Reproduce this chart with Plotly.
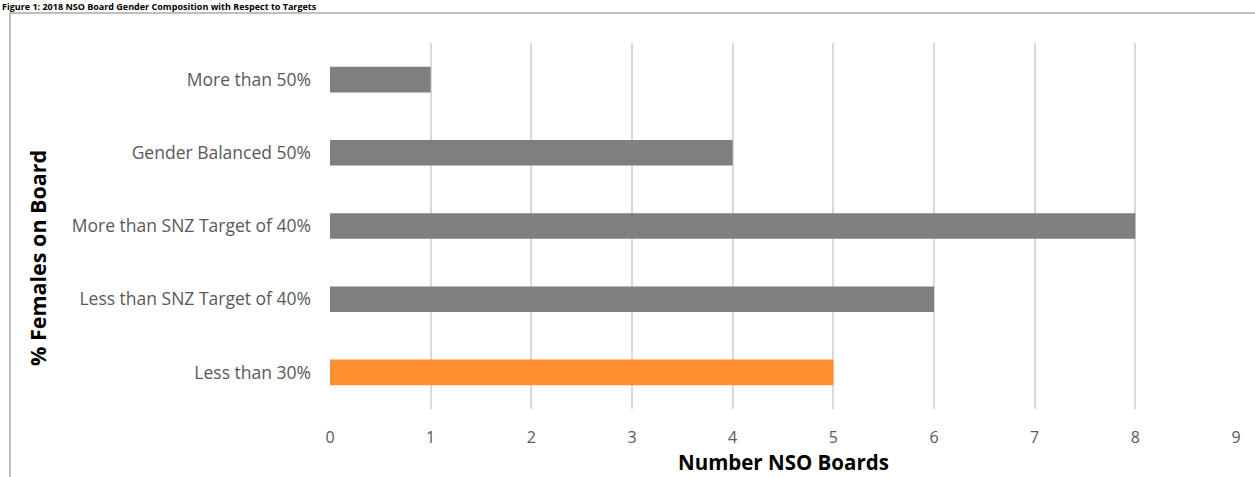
import plotly.graph_objects as go

categories = ["Less than 30%", "Less than SNZ Target of 40%", "More than SNZ Target of 40%",
              "Gender Balanced 50%", "More than 50%"]
counts = [5, 6, 8, 4, 1]
bar_colors = ["#FF8F2E", "#7F7F7F", "#7F7F7F", "#7F7F7F", "#7F7F7F"]
x_ticks = list(range(0, 10))

L, R, T, B = 330, 19, 43, 68
W, H = 1255, 477
pw, ph = W - L - R, H - T - B

def px_x(p):
    return (p - L) / pw

def px_y(p):
    return (H - B - p) / ph

FONT = "Open Sans"

fig = go.Figure(go.Bar(
    y=categories, x=counts, orientation="h",
    marker=dict(color=bar_colors, line=dict(width=0)),
    width=0.35,
))

fig.update_layout(
    width=W, height=H,
    margin=dict(l=L, r=R, t=T, b=B),
    paper_bgcolor="white", plot_bgcolor="white",
    showlegend=False,
    font=dict(family=FONT, color="#595959"),
    xaxis=dict(
        range=[0, 9], tickvals=x_ticks, showgrid=True, gridcolor="#D9D9D9", gridwidth=1.5,
        zeroline=False, showline=False, tickfont=dict(size=16, color="#595959"),
        ticks="", ticklabelstandoff=17,
    ),
    yaxis=dict(
        showgrid=False, zeroline=False, showline=False, ticks="",
        tickfont=dict(size=17.5, color="#595959"), ticklabelstandoff=18,
        range=[-0.5, 4.5],
    ),
    shapes=[dict(type="rect", xref="paper", yref="paper",
                 x0=px_x(10), x1=px_x(1300), y0=px_y(520), y1=px_y(13),
                 line=dict(color="#BFBFBF", width=2), fillcolor="rgba(0,0,0,0)", layer="below")],
    annotations=[
        dict(text="<b>Figure 1: 2018 NSO Board Gender Composition with Respect to Targets</b>",
             xref="paper", yref="paper", x=px_x(0), y=px_y(6.5), xanchor="left", yanchor="middle",
             showarrow=False, font=dict(size=9, color="black", family=FONT)),
        dict(text="<b>Number NSO Boards</b>", xref="paper", yref="paper",
             x=px_x(783), y=px_y(462), xanchor="center", yanchor="middle",
             showarrow=False, font=dict(size=20.5, color="black", family=FONT)),
        dict(text="<b>% Females on Board</b>", xref="paper", yref="paper",
             x=px_x(37), y=px_y(258), xanchor="center", yanchor="middle", textangle=-90,
             showarrow=False, font=dict(size=21.5, color="black", family=FONT)),
    ],
)

fig.write_html("out.html")
